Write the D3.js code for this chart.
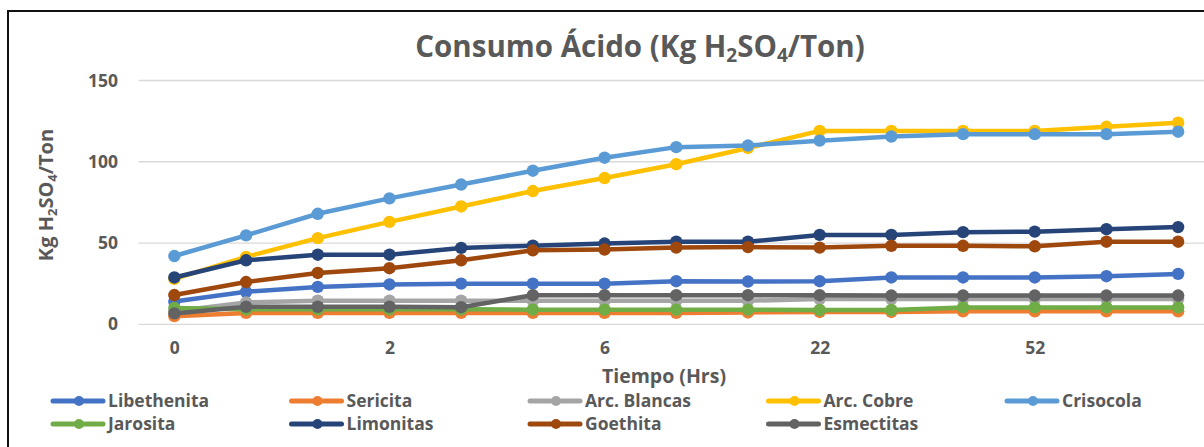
<!DOCTYPE html>
<html>
<head>
<meta charset="utf-8">
<script src="https://cdn.jsdelivr.net/npm/d3@7"></script>
<style>
  html, body { margin: 0; padding: 0; background: #fff; }
  svg { display: block; }
  text { font-family: "Open Sans", "Lato", sans-serif; font-weight: bold; fill: #595959; }
</style>
</head>
<body>
<svg id="chart" width="1204" height="447"></svg>
<script>
// Sampling points along the time axis (15 readings); labels shown every third one
const pointCount = 15;
const tickLabels = ["0", "2", "6", "22", "52"];
const tickEvery = 3;
const yTicks = [0, 50, 100, 150];

const seriesNames = ["Libethenita", "Sericita", "Arc. Blancas", "Arc. Cobre", "Crisocola",
                     "Jarosita", "Limonitas", "Goethita", "Esmectitas"];
const seriesColors = ["#4472C4", "#ED7D31", "#A5A5A5", "#FFC000", "#5B9BD5",
                      "#70AD47", "#264478", "#9E480E", "#636363"];

// Acid consumption, kg H2SO4 per ton
const libethenita = [14, 20, 23, 24.5, 25, 25, 25, 26.5, 26.3, 26.5, 28.8, 28.8, 28.8, 29.6, 31];
const sericita    = [5, 7, 7, 7, 7, 7, 7, 7, 7.3, 7.6, 7.6, 8, 8, 8, 8];
const arcBlancas  = [8, 13.5, 14.5, 14.5, 14.5, 14.5, 14.5, 14.5, 14.5, 15.5, 15.5, 15.5, 15.5, 15.5, 15.5];
const arcCobre    = [28, 41.5, 53, 63, 72.5, 82, 90, 98.5, 108.5, 119, 119, 119, 119, 121.5, 124];
const crisocola   = [42, 54.7, 68, 77.5, 86, 94.5, 102.5, 109, 110, 113, 115.5, 117, 117, 117, 118.5];
const jarosita    = [10, 9.2, 9.2, 9.2, 9.2, 9, 9, 9, 9, 8.8, 8.8, 10.4, 10.4, 10.4, 10.4];
const limonitas   = [28.8, 39.4, 42.8, 42.8, 47, 48.4, 49.7, 50.8, 50.8, 55, 55, 56.7, 57, 58.5, 59.8];
const goethita    = [18, 26, 31.6, 34.5, 39.4, 45.5, 46, 47.2, 47.5, 47.2, 48.3, 48.3, 48, 50.8, 50.8];
const esmectitas  = [6.7, 10.8, 10.8, 10.8, 10.5, 17.9, 17.9, 17.9, 17.9, 17.9, 17.7, 17.7, 17.7, 17.7, 17.7];

const seriesValues = [libethenita, sericita, arcBlancas, arcCobre, crisocola,
                      jarosita, limonitas, goethita, esmectitas];

const svg = d3.select("#chart");

// Outer chart frame
svg.append("rect")
  .attr("x", 8).attr("y", 11)
  .attr("width", 1300).attr("height", 600)
  .attr("fill", "none").attr("stroke", "#111").attr("stroke-width", 2);

const plotLeft = 138.5, plotRight = 1214, plotTop = 80.5, plotBottom = 324.3;

const x = d3.scalePoint()
  .domain(d3.range(pointCount))
  .range([plotLeft, plotRight])
  .padding(0.5);

const y = d3.scaleLinear().domain([0, 150]).range([plotBottom, plotTop]);

// Horizontal gridlines
svg.append("g")
  .selectAll("line")
  .data(yTicks)
  .join("line")
  .attr("x1", plotLeft).attr("x2", plotRight)
  .attr("y1", d => y(d)).attr("y2", d => y(d))
  .attr("stroke", "#D9D9D9").attr("stroke-width", 1.3);

// Y axis labels
const yAxis = d3.axisLeft(y).tickValues(yTicks).tickSize(0).tickPadding(0);
svg.append("g")
  .attr("transform", `translate(118,0)`)
  .call(yAxis)
  .call(g => g.select(".domain").remove())
  .selectAll("text")
  .attr("font-family", null)
  .style("font-size", "17.5px");

// X axis labels (every third category)
const xAxis = d3.axisBottom(x)
  .tickValues(d3.range(0, pointCount, tickEvery))
  .tickFormat(i => tickLabels[i / tickEvery])
  .tickSize(0).tickPadding(0);
svg.append("g")
  .attr("transform", `translate(0,342)`)
  .call(xAxis)
  .call(g => g.select(".domain").remove())
  .selectAll("text")
  .attr("font-family", null)
  .style("font-size", "17.5px");

// Series lines and markers
const line = d3.line().x((d, i) => x(i)).y(d => y(d));

const series = svg.append("g")
  .selectAll("g")
  .data(seriesValues)
  .join("g");

series.append("path")
  .attr("d", d => line(d))
  .attr("fill", "none")
  .attr("stroke", (d, i) => seriesColors[i])
  .attr("stroke-width", 4.5)
  .attr("stroke-linejoin", "round");

series.each(function (vals, si) {
  d3.select(this).selectAll("circle")
    .data(vals)
    .join("circle")
    .attr("cx", (d, i) => x(i))
    .attr("cy", d => y(d))
    .attr("r", 6.2)
    .attr("fill", seriesColors[si]);
});

// Title with subscripts
const title = svg.append("text")
  .attr("x", 640).attr("y", 57)
  .attr("text-anchor", "middle")
  .style("font-size", "29.5px");
title.append("tspan").text("Consumo Ácido (Kg H");
title.append("tspan").text("2").style("font-size", "19px").attr("dy", 5);
title.append("tspan").text("SO").attr("dy", -5);
title.append("tspan").text("4").style("font-size", "19px").attr("dy", 5);
title.append("tspan").text("/Ton)").attr("dy", -5);

// Y axis title
const yTitle = svg.append("text")
  .attr("transform", "translate(53,195) rotate(-90)")
  .attr("text-anchor", "middle")
  .style("font-size", "20px");
yTitle.append("tspan").text("Kg H");
yTitle.append("tspan").text("2").style("font-size", "13px").attr("dy", 4);
yTitle.append("tspan").text("SO").attr("dy", -4);
yTitle.append("tspan").text("4").style("font-size", "13px").attr("dy", 4);
yTitle.append("tspan").text("/Ton").attr("dy", -4);

// X axis title
svg.append("text")
  .attr("x", 664).attr("y", 383)
  .attr("text-anchor", "middle")
  .style("font-size", "19.5px")
  .text("Tiempo (Hrs)");

// Legend: five columns, two rows
const legend = svg.append("g")
  .selectAll("g")
  .data(seriesNames)
  .join("g")
  .attr("transform", (d, i) => `translate(${53 + (i % 5) * 238.5},${401 + Math.floor(i / 5) * 23})`);

legend.append("line")
  .attr("x1", 0).attr("x2", 50)
  .attr("stroke", (d, i) => seriesColors[i])
  .attr("stroke-width", 5)
  .attr("stroke-linecap", "round");
legend.append("circle")
  .attr("cx", 26).attr("r", 5)
  .attr("fill", (d, i) => seriesColors[i]);
legend.append("text")
  .attr("x", 55).attr("dy", "0.34em")
  .style("font-size", "17.5px")
  .text(d => d);
</script>
</body>
</html>
